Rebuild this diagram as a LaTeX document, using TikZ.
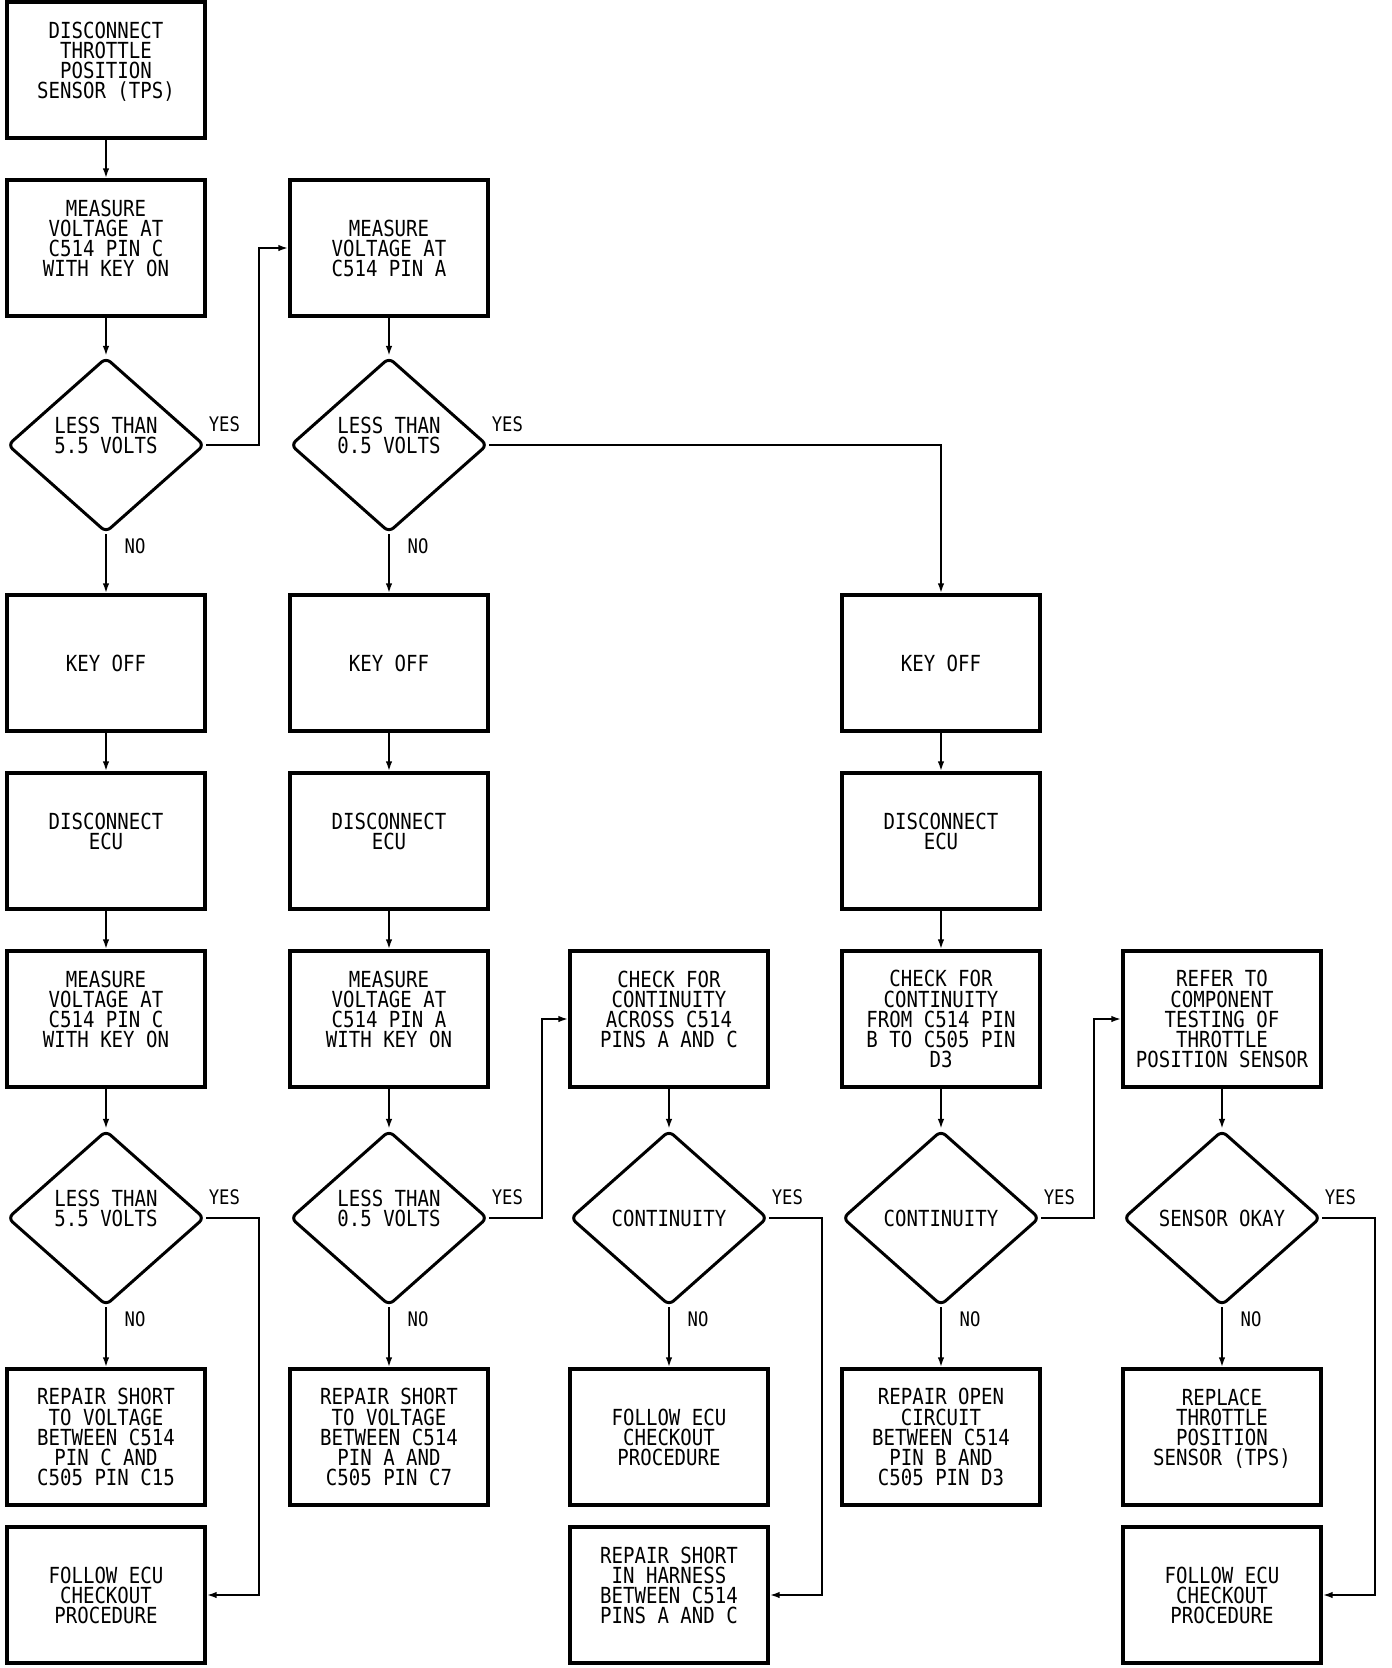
\documentclass[tikz,border=0pt]{standalone}
\usepackage{fontspec}
\newfontfamily\plotfont[FakeStretch=0.86]{DejaVu Sans Mono}
\usetikzlibrary{shapes.geometric,arrows.meta,positioning}
\newcommand{\padline}{\\\mbox{}}

\begin{document}
\begin{tikzpicture}[x=0.01cm,y=-0.01cm,
		box/.style={draw,line width=0.9pt,minimum width=1.98cm,minimum height=1.36cm,inner sep=0pt,align=center,font=\plotfont\fontsize{6.3pt}{5.7pt}\selectfont},
		test/.style={diamond,draw,line width=0.85pt,minimum width=1.97cm,minimum height=1.75cm,inner sep=0pt,rounded corners=0.06cm,align=center,font=\plotfont\fontsize{6.3pt}{5.7pt}\selectfont},
		lbl/.style={inner sep=0pt,font=\plotfont\fontsize{5.7pt}{6pt}\selectfont},
		arr/.style={line width=0.7pt,-{Latex[length=1mm,width=0.65mm]}}]
		\useasboundingbox (0,0) rectangle (1392,1668);
		\def\xa{106}
		\def\xb{389}
		\def\xc{669}
		\def\xd{941}
		\def\xe{1222}
		\def\ya{70}
		\def\yb{248}
		\def\yc{445}
		\def\yd{663}
		\def\ye{841}
		\def\yf{1019}
		\def\yg{1218}
		\def\yh{1437}
		\def\yi{1595}
		% first checks
		\node[box] (tps) at (\xa,\ya) {DISCONNECT\\THROTTLE\\POSITION\\SENSOR (TPS)\padline};
		\node[box] (measC) at (\xa,\yb) {MEASURE\\VOLTAGE AT\\C514 PIN C\\WITH KEY ON\padline};
		\node[box] (measA) at (\xb,\yb) {MEASURE\\VOLTAGE AT\\C514 PIN A};
		\node[test] (lessC) at (\xa,\yc) {LESS THAN\\5.5 VOLTS\padline};
		\node[test] (lessA) at (\xb,\yc) {LESS THAN\\0.5 VOLTS\padline};
		% key off, disconnect ECU
		\node[box] (offC) at (\xa,\yd) {KEY OFF};
		\node[box] (offA) at (\xb,\yd) {KEY OFF};
		\node[box] (offB) at (\xd,\yd) {KEY OFF};
		\node[box] (ecuC) at (\xa,\ye) {DISCONNECT\\ECU\padline};
		\node[box] (ecuA) at (\xb,\ye) {DISCONNECT\\ECU\padline};
		\node[box] (ecuB) at (\xd,\ye) {DISCONNECT\\ECU\padline};
		% second checks
		\node[box] (keyC) at (\xa,\yf) {MEASURE\\VOLTAGE AT\\C514 PIN C\\WITH KEY ON\padline};
		\node[box] (keyA) at (\xb,\yf) {MEASURE\\VOLTAGE AT\\C514 PIN A\\WITH KEY ON\padline};
		\node[box] (across) at (\xc,\yf) {CHECK FOR\\CONTINUITY\\ACROSS C514\\PINS A AND C\padline};
		\node[box] (fromB) at (\xd,\yf) {CHECK FOR\\CONTINUITY\\FROM C514 PIN\\B TO C505 PIN\\D3};
		\node[box] (refer) at (\xe,\yf) {REFER TO\\COMPONENT\\TESTING OF\\THROTTLE\\POSITION SENSOR};
		\node[test] (lessC2) at (\xa,\yg) {LESS THAN\\5.5 VOLTS\padline};
		\node[test] (lessA2) at (\xb,\yg) {LESS THAN\\0.5 VOLTS\padline};
		\node[test] (contAC) at (\xc,\yg) {CONTINUITY};
		\node[test] (contBD) at (\xd,\yg) {CONTINUITY};
		\node[test] (okay) at (\xe,\yg) {SENSOR OKAY};
		% results
		\node[box] (shortC) at (\xa,\yh) {REPAIR SHORT\\TO VOLTAGE\\BETWEEN C514\\PIN C AND\\C505 PIN C15};
		\node[box] (shortA) at (\xb,\yh) {REPAIR SHORT\\TO VOLTAGE\\BETWEEN C514\\PIN A AND\\C505 PIN C7};
		\node[box] (ecuchkA) at (\xc,\yh) {FOLLOW ECU\\CHECKOUT\\PROCEDURE};
		\node[box] (openB) at (\xd,\yh) {REPAIR OPEN\\CIRCUIT\\BETWEEN C514\\PIN B AND\\C505 PIN D3};
		\node[box] (replace) at (\xe,\yh) {REPLACE\\THROTTLE\\POSITION\\SENSOR (TPS)\padline};
		\node[box] (ecuchkC) at (\xa,\yi) {FOLLOW ECU\\CHECKOUT\\PROCEDURE};
		\node[box] (harness) at (\xc,\yi) {REPAIR SHORT\\IN HARNESS\\BETWEEN C514\\PINS A AND C\padline};
		\node[box] (ecuchkE) at (\xe,\yi) {FOLLOW ECU\\CHECKOUT\\PROCEDURE};
		% straight arrows
		\draw[arr] (tps) -- (measC);
		\draw[arr] (measC) -- (lessC);
		\draw[arr] (lessC) -- (offC);
		\draw[arr] (offC) -- (ecuC);
		\draw[arr] (ecuC) -- (keyC);
		\draw[arr] (keyC) -- (lessC2);
		\draw[arr] (lessC2) -- (shortC);
		\draw[arr] (measA) -- (lessA);
		\draw[arr] (lessA) -- (offA);
		\draw[arr] (offA) -- (ecuA);
		\draw[arr] (ecuA) -- (keyA);
		\draw[arr] (keyA) -- (lessA2);
		\draw[arr] (lessA2) -- (shortA);
		\draw[arr] (across) -- (contAC);
		\draw[arr] (contAC) -- (ecuchkA);
		\draw[arr] (offB) -- (ecuB);
		\draw[arr] (ecuB) -- (fromB);
		\draw[arr] (fromB) -- (contBD);
		\draw[arr] (contBD) -- (openB);
		\draw[arr] (refer) -- (okay);
		\draw[arr] (okay) -- (replace);
		% yes branches
		\draw[arr] (lessC.east) -- ++(53,0) |- (measA.west);
		\draw[arr] (lessA.east) -| (offB.north);
		\draw[arr] (lessC2.east) -- ++(53,0) |- (ecuchkC.east);
		\draw[arr] (lessA2.east) -- ++(53,0) |- (across.west);
		\draw[arr] (contAC.east) -- ++(53,0) |- (harness.east);
		\draw[arr] (contBD.east) -- ++(53,0) |- (refer.west);
		\draw[arr] (okay.east) -- ++(53,0) |- (ecuchkE.east);
		% labels
		\node[lbl,above right=0.13cm and 0.02cm of lessC.east] (yesC) {YES};
		\node[lbl,above right=0.13cm and 0.02cm of lessA.east] (yesA) {YES};
		\node[lbl,above right=0.13cm and 0.02cm of lessC2.east] (yesC2) {YES};
		\node[lbl,above right=0.13cm and 0.02cm of lessA2.east] (yesA2) {YES};
		\node[lbl,above right=0.13cm and 0.02cm of contAC.east] (yesAC) {YES};
		\node[lbl,above right=0.13cm and 0.02cm of contBD.east] (yesBD) {YES};
		\node[lbl,above right=0.13cm and 0.02cm of okay.east] (yesok) {YES};
		\node[lbl,below right=0.035cm and 0.18cm of lessC.south] (noC) {NO};
		\node[lbl,below right=0.035cm and 0.18cm of lessA.south] (noA) {NO};
		\node[lbl,below right=0.035cm and 0.18cm of lessC2.south] (noC2) {NO};
		\node[lbl,below right=0.035cm and 0.18cm of lessA2.south] (noA2) {NO};
		\node[lbl,below right=0.035cm and 0.18cm of contAC.south] (noAC) {NO};
		\node[lbl,below right=0.035cm and 0.18cm of contBD.south] (noBD) {NO};
		\node[lbl,below right=0.035cm and 0.18cm of okay.south] (nook) {NO};
	\end{tikzpicture}
\end{document}
